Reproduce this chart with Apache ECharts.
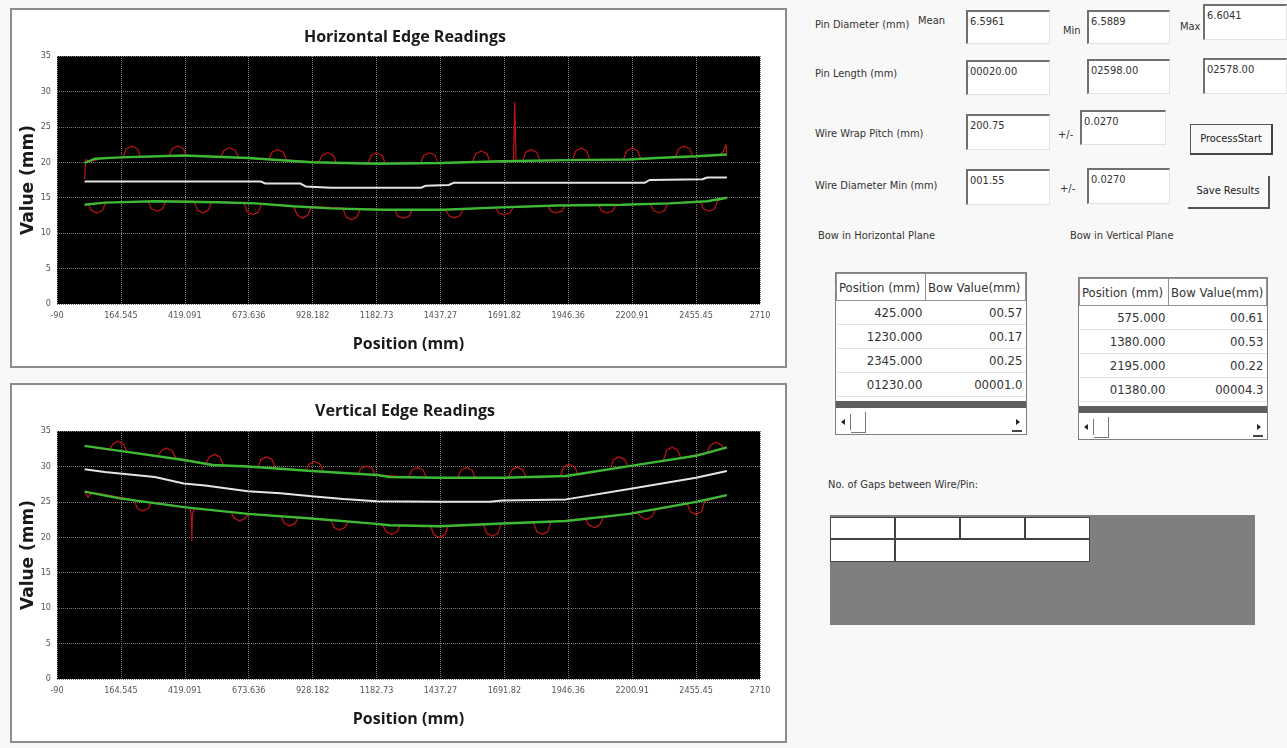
<!DOCTYPE html>
<html><head><meta charset="utf-8">
<script src="https://cdn.jsdelivr.net/npm/echarts@6/dist/echarts.min.js"></script>
<style>
html,body{margin:0;padding:0;background:#f8f8f8;width:1287px;height:748px;overflow:hidden;font-family:"Liberation Sans Narrow","DejaVu Sans Condensed",sans-serif;}
.frame{position:absolute;left:10px;width:777px;height:360px;border:2px solid #8c8c8c;background:#fff;box-sizing:border-box;}
#chart{position:absolute;left:0;top:0;width:800px;height:748px;}
.lbl{position:absolute;font-size:11px;color:#333;white-space:nowrap;line-height:14px;}
.box{position:absolute;background:#fff;border-top:2px solid #707070;border-left:2px solid #707070;border-right:1px solid #e2e2e2;border-bottom:1px solid #e2e2e2;box-sizing:border-box;font-size:11px;color:#333;padding:3px 0 0 2px;line-height:14px;white-space:nowrap;overflow:hidden;}
.btn{position:absolute;background:#f8f8f8;box-sizing:border-box;font-size:11px;color:#222;text-align:center;white-space:nowrap;}
.tbl{position:absolute;background:#fff;border:1px solid #808080;box-sizing:border-box;}
.tbl table{border-collapse:collapse;width:100%;font-size:13px;color:#333;}
.tbl th{font-weight:normal;border:1px solid #909090;height:26px;padding:0 2px;text-align:left;white-space:nowrap;}
.tbl td{border-bottom:1px solid #e4e4e4;height:23px;padding:0 3px;text-align:right;}
.bar{position:absolute;left:0;right:0;height:7px;background:#5e5e5e;}
.scroll{position:absolute;left:0;right:0;bottom:0;height:26px;background:#fff;}
.arrowL{position:absolute;left:2px;top:6px;width:12px;height:16px;border-right:1px solid #777;}
.arrowL:after{content:"";position:absolute;left:3px;top:5px;border-right:4px solid #222;border-top:3px solid transparent;border-bottom:3px solid transparent;}
.thumb{position:absolute;left:15px;top:4px;width:14px;height:20px;border-right:1px solid #777;border-bottom:1px solid #777;}
.arrowR{position:absolute;right:4px;top:6px;width:10px;height:16px;border-bottom:2px solid #444;}
.arrowR:after{content:"";position:absolute;left:4px;top:5px;border-left:4px solid #222;border-top:3px solid transparent;border-bottom:3px solid transparent;}
.gaps{position:absolute;left:830px;top:515px;width:425px;height:110px;background:#7f7f7f;}
.cell{position:absolute;background:#fff;border:1px solid #444;box-sizing:border-box;}
</style></head>
<body>
<div class="frame" style="top:8px"></div>
<div class="frame" style="top:383px"></div>
<div id="chart"></div>
<div id="panel"></div>
<script>
// ---------- axes ----------
const xMin = -90, xMax = 2710, xDivisions = 11;
const yMin = 0, yMax = 35, yStep = 5;
const chartTitles = ['Horizontal Edge Readings', 'Vertical Edge Readings'];
const xAxisTitle = 'Position (mm)';
const yAxisTitle = 'Value (mm)';

// ---------- Horizontal edge readings ----------
const hRawUpper = [[20,17.6],[24,20.4],[40,20.1],[100,20.6],
 [173,20.7],[186,21.9],[208,22.3],[230,21.9],[243,20.7],
 [356,20.9],[369,21.95],[391,22.3],[413,21.95],[426,20.9],
 [563,20.8],[576,21.7],[598,22.05],[620,21.7],[633,20.7],
 [754,20.4],[767,21.45],[789,21.8],[811,21.45],[824,20.3],
 [953,20.0],[966,21.0],[988,21.35],[1010,21.0],[1023,19.95],
 [1148,19.8],[1161,21.0],[1183,21.35],[1205,21.0],[1218,19.8],
 [1358,19.85],[1371,21.0],[1393,21.35],[1415,21.0],[1428,19.85],
 [1565,20.05],[1578,21.2],[1600,21.6],[1622,21.2],[1635,20.1],
 [1728,20.2],[1733,28.5],[1738,20.2],
 [1764,20.2],[1777,21.4],[1799,21.8],[1821,21.4],[1834,20.2],
 [1963,20.3],[1976,21.6],[1998,22.05],[2020,21.6],[2033,20.3],
 [2166,20.4],[2179,21.6],[2201,22.05],[2223,21.6],[2236,20.45],
 [2373,20.75],[2386,21.9],[2408,22.3],[2430,21.9],[2443,20.8],
 [2550,21.0],[2565,21.6],[2575,22.5],[2578,21.1]];
const hRawLower = [[20,14.0],[34,14.1],[47,13.2],[69,12.85],[91,13.2],[104,14.3],
 [273,14.5],[286,13.45],[308,13.1],[330,13.45],[343,14.5],
 [456,14.5],[469,13.25],[491,12.85],[513,13.25],[526,14.45],
 [655,14.25],[668,13.0],[690,12.6],[712,13.0],[725,14.15],
 [853,13.85],[866,12.55],[888,12.15],[910,12.55],[923,13.75],
 [1048,13.55],[1061,12.3],[1083,11.9],[1105,12.3],[1118,13.45],
 [1255,13.3],[1268,12.4],[1290,12.1],[1312,12.4],[1325,13.3],
 [1458,13.3],[1471,12.45],[1493,12.15],[1515,12.45],[1528,13.4],
 [1657,13.6],[1670,12.85],[1692,12.6],[1714,12.85],[1727,13.65],
 [1864,13.85],[1877,13.1],[1899,12.85],[1921,13.1],[1934,13.9],
 [2066,14.0],[2079,13.15],[2101,12.85],[2123,13.15],[2136,14.0],
 [2273,14.1],[2286,13.2],[2308,12.85],[2330,13.2],[2343,14.2],
 [2472,14.45],[2485,13.45],[2507,13.1],[2529,13.45],[2542,14.6],
 [2578,15.0]];
const hFitUpper = [[20,19.9],[60,20.5],[160,20.7],[415,20.95],[670,20.6],[924,20.0],[1183,19.8],[1433,19.9],[1684,20.15],[1938,20.3],[2189,20.4],[2296,20.6],[2455,20.85],[2578,21.1]];
const hFitLower = [[20,14.0],[100,14.3],[300,14.5],[550,14.35],[700,14.2],[850,13.8],[1000,13.5],[1200,13.3],[1450,13.3],[1650,13.6],[1900,13.9],[2160,14.0],[2350,14.2],[2500,14.5],[2578,15.0]];
const hCenter = [[20,17.3],[720,17.3],[740,17.0],[880,17.0],[900,16.6],[1000,16.4],[1360,16.4],[1380,16.7],[1470,16.8],[1490,17.1],[2250,17.1],[2270,17.5],[2480,17.6],[2500,17.85],[2578,17.85]];

// ---------- Vertical edge readings ----------
const vRawUpper = [[20,32.9],[118,32.3],[131,33.1],[153,33.6],[175,33.1],[188,32.1],
 [312,31.5],[325,32.2],[347,32.6],[369,32.2],[382,31.2],
 [503,30.4],[516,31.3],[538,31.7],[560,31.3],[573,30.15],
 [710,29.9],[723,31.0],[745,31.35],[767,31.0],[780,29.75],
 [901,29.4],[914,30.35],[936,30.7],[958,30.35],[971,29.25],
 [1108,28.9],[1121,29.75],[1143,30.05],[1165,29.75],[1178,28.8],
 [1311,28.5],[1324,29.5],[1346,29.85],[1368,29.5],[1381,28.45],
 [1506,28.4],[1519,29.5],[1541,29.85],[1563,29.5],[1576,28.4],
 [1708,28.4],[1721,29.55],[1743,29.9],[1765,29.55],[1778,28.45],
 [1915,28.65],[1928,29.95],[1950,30.3],[1972,29.95],[1985,28.8],
 [2114,29.65],[2127,31.0],[2149,31.35],[2171,31.0],[2184,30.0],
 [2325,30.8],[2338,32.3],[2360,32.7],[2382,32.3],[2395,31.15],
 [2500,32.0],[2513,33.0],[2535,33.4],[2557,33.0],[2570,32.5],[2578,32.7]];
const vRawLower = [[20,26.45],[28,26.0],[33,25.6],[40,26.0],[55,26.3],
 [217,25.3],[230,24.1],[252,23.7],[274,24.1],[287,24.95],
 [440,24.15],[445,23.0],[447,19.45],[449,23.0],[455,24.05],
 [603,23.55],[616,22.7],[638,22.3],[660,22.7],[673,23.35],
 [802,22.95],[815,22.0],[837,21.6],[859,22.0],[872,22.8],
 [1000,22.4],[1013,21.4],[1035,21.0],[1057,21.4],[1070,22.25],
 [1207,21.8],[1220,20.8],[1242,20.4],[1264,20.8],[1277,21.7],
 [1398,21.6],[1411,20.35],[1433,19.95],[1455,20.35],[1468,21.55],
 [1609,21.8],[1622,20.55],[1644,20.15],[1666,20.55],[1679,21.95],
 [1808,22.1],[1821,20.8],[1843,20.4],[1865,20.8],[1878,22.2],
 [2015,22.6],[2028,21.75],[2050,21.35],[2072,21.75],[2085,22.8],
 [2222,23.45],[2235,22.9],[2257,22.5],[2279,22.9],[2292,23.85],
 [2420,24.7],[2433,23.6],[2455,23.2],[2477,23.6],[2490,25.1],
 [2578,25.95]];
const vFitUpper = [[20,32.9],[160,32.2],[415,30.9],[530,30.2],[670,30.0],[924,29.35],[1183,28.8],[1234,28.5],[1433,28.4],[1684,28.4],[1938,28.65],[2189,30.05],[2455,31.5],[2578,32.7]];
const vFitLower = [[20,26.45],[160,25.5],[415,24.25],[670,23.3],[924,22.65],[1183,21.9],[1234,21.7],[1433,21.55],[1684,21.95],[1938,22.3],[2189,23.3],[2455,25.0],[2578,25.95]];
const vCenter = [[20,29.6],[100,29.2],[160,29.0],[300,28.5],[415,27.6],[500,27.3],[670,26.5],[800,26.2],[924,25.8],[1050,25.4],[1183,25.1],[1433,25.0],[1633,25.0],[1684,25.2],[1938,25.35],[2189,26.8],[2455,28.4],[2578,29.35]];

// ---------- right panel values ----------
const pinDiameter = ['6.5961', '6.5889', '6.6041'];
const pinLength = ['00020.00', '02598.00', '02578.00'];
const wireWrapPitch = ['200.75', '0.0270'];
const wireDiameterMin = ['001.55', '0.0270'];
const bowTableHeaders = ['Position (mm)', 'Bow Value(mm)'];
const hBowPos = ['425.000', '1230.000', '2345.000', '01230.00'];
const hBowVal = ['00.57', '00.17', '00.25', '00001.0'];
const vBowPos = ['575.000', '1380.000', '2195.000', '01380.00'];
const vBowVal = ['00.61', '00.53', '00.22', '00004.3'];

// ---------- chart ----------
const grids = [{left:57, top:56, width:703, height:248}, {left:57, top:431, width:703, height:248}];
const labelFont = '"Liberation Sans Narrow","DejaVu Sans Condensed",sans-serif';
function fmtX(v){ return String(Number(v.toPrecision(6))); }

const option = {
  animation:false,
  backgroundColor:'transparent',
  title: chartTitles.map((t,i)=>({
    text:t, left:400, top: i===0 ? 24 : 398, textAlign:'center',
    textStyle:{fontFamily:'"Open Sans",sans-serif', fontWeight:'bold', fontSize:16, color:'#1a1a1a'}
  })),
  grid: grids.map(g=>Object.assign({show:true, backgroundColor:'#000', borderWidth:0}, g)),
  xAxis: grids.map((g,i)=>({
    type:'value', gridIndex:i, min:xMin, max:xMax, interval:(xMax-xMin)/xDivisions,
    name:xAxisTitle, nameLocation:'middle', nameGap:32, nameMoveOverlap:false,
    nameTextStyle:{fontFamily:'"Open Sans",sans-serif', fontWeight:'bold', fontSize:16, color:'#1a1a1a'},
    axisLine:{show:false}, axisTick:{show:false},
    axisLabel:{formatter:fmtX, color:'#555', fontSize:9, fontFamily:labelFont, margin:7, showMinLabel:true, showMaxLabel:true},
    splitLine:{show:true, lineStyle:{color:'#7a7a7a', width:1, type:'dotted'}}
  })),
  yAxis: grids.map((g,i)=>({
    type:'value', gridIndex:i, min:yMin, max:yMax, interval:yStep,
    name:yAxisTitle, nameLocation:'middle', nameGap:20, nameRotate:90, nameMoveOverlap:false,
    nameTextStyle:{fontFamily:'"DejaVu Sans",sans-serif', fontWeight:'bold', fontSize:17, color:'#1a1a1a'},
    axisLine:{show:false}, axisTick:{show:false},
    axisLabel:{color:'#555', fontSize:9, fontFamily:labelFont, margin:6},
    splitLine:{show:true, lineStyle:{color:'#7a7a7a', width:1, type:'dotted'}}
  })),
  series: []
};
function addSeries(i, rawU, rawL, fitU, fitL, center){
  const base = {type:'line', xAxisIndex:i, yAxisIndex:i, symbol:'none', silent:true};
  option.series.push(Object.assign({}, base, {data:rawU, lineStyle:{color:'#bf1414', width:1.2}, z:2}));
  option.series.push(Object.assign({}, base, {data:rawL, lineStyle:{color:'#bf1414', width:1.2}, z:2}));
  option.series.push(Object.assign({}, base, {data:fitU, lineStyle:{color:'#3cba36', width:2.4}, z:3}));
  option.series.push(Object.assign({}, base, {data:fitL, lineStyle:{color:'#3cba36', width:2.4}, z:3}));
  option.series.push(Object.assign({}, base, {data:center, lineStyle:{color:'#e4e4e4', width:2}, z:4}));
}
addSeries(0, hRawUpper, hRawLower, hFitUpper, hFitLower, hCenter);
addSeries(1, vRawUpper, vRawLower, vFitUpper, vFitLower, vCenter);
echarts.init(document.getElementById('chart')).setOption(option);

// ---------- panel (HTML) ----------
const panel = document.getElementById('panel');
function el(cls, style, text){
  const d = document.createElement('div');
  d.className = cls; d.setAttribute('style', style);
  if (text != null) d.textContent = text;
  panel.appendChild(d); return d;
}
el('lbl','left:815px;top:18px','Pin Diameter (mm)');
el('lbl','left:918px;top:14px','Mean');
el('box','left:966px;top:10px;width:84px;height:34px', pinDiameter[0]);
el('lbl','left:1063px;top:24px','Min');
el('box','left:1087px;top:10px;width:83px;height:34px', pinDiameter[1]);
el('lbl','left:1180px;top:20px','Max');
el('box','left:1203px;top:4px;width:84px;height:36px', pinDiameter[2]);

el('lbl','left:815px;top:67px','Pin Length (mm)');
el('box','left:966px;top:60px;width:84px;height:35px', pinLength[0]);
el('box','left:1087px;top:59px;width:83px;height:35px', pinLength[1]);
el('box','left:1203px;top:58px;width:84px;height:36px', pinLength[2]);

el('lbl','left:815px;top:127px','Wire Wrap Pitch (mm)');
el('box','left:966px;top:114px;width:84px;height:36px', wireWrapPitch[0]);
el('lbl','left:1058px;top:128px','+/-');
el('box','left:1080px;top:110px;width:86px;height:35px', wireWrapPitch[1]);
el('btn','left:1190px;top:124px;width:83px;height:31px;border:1px solid #555;border-right:2px solid #444;border-bottom:2px solid #444;line-height:27px', 'ProcessStart');

el('lbl','left:815px;top:179px','Wire Diameter Min (mm)');
el('box','left:966px;top:169px;width:84px;height:36px', wireDiameterMin[0]);
el('lbl','left:1060px;top:182px','+/-');
el('box','left:1087px;top:168px;width:83px;height:36px', wireDiameterMin[1]);
el('btn','left:1188px;top:176px;width:82px;height:33px;border-right:2px solid #555;border-bottom:2px solid #555;line-height:30px', 'Save Results');

el('lbl','left:818px;top:229px','Bow in Horizontal Plane');
el('lbl','left:1070px;top:229px','Bow in Vertical Plane');

function makeTable(left, top, width, height, col1, pos, val){
  const t = el('tbl', `left:${left}px;top:${top}px;width:${width}px;height:${height}px`);
  const table = document.createElement('table');
  const hr = document.createElement('tr');
  bowTableHeaders.forEach((h,k)=>{ const th=document.createElement('th'); th.textContent=h; if(k===0) th.style.width=col1+'px'; hr.appendChild(th); });
  table.appendChild(hr);
  pos.forEach((p,k)=>{
    const tr=document.createElement('tr');
    const a=document.createElement('td'); a.textContent=p;
    const b=document.createElement('td'); b.textContent=val[k];
    tr.appendChild(a); tr.appendChild(b); table.appendChild(tr);
  });
  t.appendChild(table);
  const bar = document.createElement('div'); bar.className='bar'; bar.style.bottom='26px'; t.appendChild(bar);
  const sc = document.createElement('div'); sc.className='scroll';
  ['arrowL','thumb','arrowR'].forEach(c=>{ const d=document.createElement('div'); d.className=c; sc.appendChild(d); });
  t.appendChild(sc);
}
makeTable(835, 272, 192, 163, 84, hBowPos, hBowVal);
makeTable(1078, 277, 190, 163, 84, vBowPos, vBowVal);

el('lbl','left:828px;top:478px','No. of Gaps between Wire/Pin:');
el('gaps','');
[[830,517,65,22],[895,517,65,22],[960,517,65,22],[1025,517,65,22],[830,539,65,23],[895,539,195,23]].forEach(c=>{
  el('cell',`left:${c[0]}px;top:${c[1]}px;width:${c[2]}px;height:${c[3]}px`);
});
</script>
</body></html>
